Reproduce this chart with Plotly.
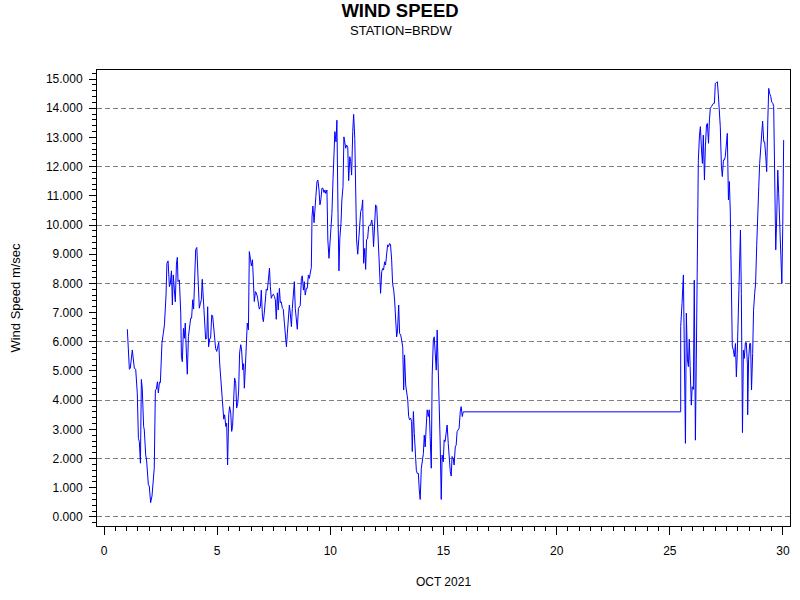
import plotly.graph_objects as go

# Day of month (Oct 2021) and wind speed (m/sec)
days = [
 1.03,1.12,1.16,1.25,1.34,1.40,1.47,1.52,1.56,1.61,1.65,1.69,1.75,1.78,1.84,1.88,1.96,2.00,2.06,2.12,
 2.22,2.27,2.31,2.36,2.40,2.45,2.49,2.56,2.62,2.67,2.74,2.78,2.83,2.89,2.93,2.98,3.02,3.06,3.11,3.15,
 3.20,3.24,3.27,3.33,3.39,3.42,3.46,3.51,3.55,3.59,3.64,3.68,3.73,3.78,3.83,3.87,3.92,3.96,4.01,4.05,
 4.10,4.14,4.21,4.26,4.30,4.34,4.40,4.45,4.49,4.54,4.58,4.62,4.67,4.71,4.76,4.80,4.85,4.89,4.93,4.98,
 5.02,5.07,5.11,5.16,5.20,5.24,5.29,5.33,5.38,5.42,5.46,5.51,5.55,5.60,5.64,5.68,5.73,5.77,5.82,5.86,
 5.91,5.95,5.99,6.04,6.08,6.13,6.17,6.20,6.25,6.29,6.33,6.38,6.42,6.47,6.51,6.56,6.60,6.64,6.69,6.73,
 6.78,6.82,6.86,6.91,6.95,7.00,7.04,7.08,7.13,7.17,7.22,7.26,7.31,7.35,7.39,7.44,7.48,7.53,7.57,7.61,
 7.66,7.70,7.75,7.79,7.83,7.88,7.92,7.97,8.01,8.06,8.10,8.14,8.19,8.23,8.28,8.32,8.36,8.41,8.45,8.50,
 8.54,8.59,8.63,8.67,8.72,8.76,8.81,8.85,8.89,8.94,8.98,9.03,9.07,9.12,9.16,9.19,9.23,9.28,9.32,9.36,
 9.41,9.45,9.50,9.54,9.58,9.63,9.67,9.72,9.76,9.80,9.85,9.89,9.94,9.98,10.03,10.07,10.12,10.16,10.20,10.25,
 10.29,10.34,10.38,10.42,10.47,10.51,10.56,10.60,10.68,10.72,10.77,10.81,10.86,10.90,10.94,10.99,11.03,11.08,11.12,11.16,
 11.21,11.25,11.30,11.34,11.39,11.43,11.47,11.52,11.56,11.60,11.65,11.69,11.74,11.78,11.83,11.87,11.91,11.96,12.00,12.05,
 12.09,12.13,12.18,12.22,12.27,12.31,12.35,12.40,12.44,12.49,12.53,12.57,12.62,12.66,12.71,12.75,12.80,12.84,12.88,12.93,
 12.97,13.02,13.06,13.11,13.15,13.20,13.24,13.28,13.33,13.37,13.42,13.46,13.50,13.55,13.59,13.62,13.67,13.71,13.75,13.80,
 13.84,13.89,13.93,13.97,14.02,14.06,14.11,14.15,14.19,14.24,14.28,14.33,14.37,14.41,14.46,14.50,14.55,14.59,14.63,14.68,
 14.72,14.77,14.81,14.85,14.90,14.94,14.99,15.03,15.07,15.12,15.16,15.21,15.25,15.30,15.34,15.38,15.43,15.47,15.52,15.56,
 15.60,15.65,15.69,15.74,15.78,15.83,15.87,
 25.48,25.48,25.54,25.60,25.69,25.73,25.78,25.82,25.86,25.91,25.95,25.99,26.04,26.08,26.13,26.17,26.22,26.26,26.31,26.35,
 26.40,26.44,26.48,26.53,26.57,26.62,26.66,26.71,26.75,26.79,26.84,26.88,26.93,26.97,27.01,27.06,27.10,27.14,27.19,27.23,
 27.28,27.32,27.37,27.41,27.45,27.50,27.54,27.59,27.63,27.67,27.72,27.76,27.81,27.85,27.90,27.94,27.98,28.03,28.07,28.12,
 28.16,28.21,28.25,28.29,28.34,28.38,28.43,28.44,28.48,28.53,28.57,28.61,28.66,28.70,28.75,28.79,28.84,28.88,28.93,28.97,
 29.02,29.06,29.10,29.15,29.19,29.24,29.28,29.33,29.37,29.41,29.46,29.50,29.55,29.59,29.64,29.68,29.72,29.77,29.81,29.86,
 29.90,29.95,29.99,30.03,
]
speed = [
 6.43,5.06,5.09,5.72,5.09,5.06,4.24,2.69,2.58,1.84,4.71,4.41,3.10,2.98,2.13,1.95,1.10,1.06,0.49,0.72,
 1.67,4.35,4.37,4.63,4.25,4.62,4.60,5.95,6.29,6.58,7.60,8.69,8.77,7.89,8.00,8.43,7.26,8.29,7.77,7.37,
 8.66,8.89,8.06,8.12,6.98,5.49,5.32,6.46,6.12,6.64,5.61,4.89,6.18,6.52,6.81,6.81,7.44,7.12,8.81,9.16,
 9.23,8.35,7.15,7.32,7.44,8.14,7.44,6.75,6.09,6.12,7.20,5.83,6.11,6.12,6.92,6.89,6.52,6.06,5.78,5.67,
 5.83,5.98,5.27,4.70,4.01,3.61,3.35,3.50,3.10,3.21,1.78,3.50,3.78,3.56,2.93,3.10,4.13,4.76,4.58,3.73,
 3.90,4.35,5.61,5.90,5.72,5.04,5.25,4.41,5.21,5.83,6.64,6.41,9.09,8.83,8.60,8.81,8.24,7.38,7.72,7.67,
 7.53,7.26,7.12,7.20,7.77,6.86,6.69,6.98,7.44,7.80,7.77,8.17,8.52,7.89,7.49,7.60,7.63,7.55,7.44,6.77,
 7.68,7.09,7.83,7.34,7.37,7.15,7.12,6.64,6.18,5.83,6.29,6.86,7.26,6.98,6.52,7.15,7.77,8.06,7.15,6.75,
 6.43,7.15,7.20,7.24,8.17,8.26,7.77,8.06,7.60,7.83,7.83,8.29,8.17,8.46,8.55,10.28,10.65,10.08,10.69,10.97,
 11.49,11.54,11.20,10.69,10.86,11.26,11.26,11.11,11.20,11.08,11.20,9.49,8.86,9.43,10.05,10.40,11.60,12.45,13.20,12.85,
 13.59,10.40,8.43,9.55,10.05,10.86,11.31,13.02,12.63,12.74,12.66,11.52,12.34,12.17,11.71,13.20,13.79,12.97,10.86,9.49,
 9.00,9.49,10.17,10.46,10.57,10.86,8.69,9.20,8.48,9.49,9.55,9.95,10.00,10.00,10.17,9.95,9.26,10.29,10.69,10.63,
 9.77,8.92,8.23,7.66,8.40,8.51,8.46,8.74,8.63,9.14,9.32,9.26,9.37,9.32,8.80,8.00,7.77,7.43,6.80,6.17,
 6.40,7.26,6.29,6.23,6.06,5.81,4.35,5.55,4.52,4.35,4.01,3.44,3.33,3.38,3.27,2.24,3.61,2.86,2.17,1.60,
 1.49,1.49,0.92,0.60,1.67,1.95,2.17,2.80,2.40,3.15,3.67,3.44,3.67,2.76,1.67,4.86,6.06,6.17,5.71,5.03,
 6.40,5.15,3.33,2.64,0.60,2.12,1.89,2.64,2.58,2.98,3.15,2.52,1.84,1.55,1.40,2.07,2.01,1.78,2.40,2.46,
 2.92,2.98,3.04,3.61,3.78,3.44,3.60,
 3.60,6.52,7.32,8.29,2.52,6.98,5.38,5.15,6.09,4.92,3.83,4.46,4.37,8.11,2.63,5.38,8.80,12.22,13.08,13.37,
 12.57,12.11,13.08,11.54,12.68,13.43,13.48,12.80,13.60,14.00,14.06,14.11,14.17,14.17,14.85,14.88,14.91,14.51,13.94,13.37,
 12.00,11.66,12.23,12.23,12.34,12.91,13.14,10.86,11.49,10.51,8.11,5.85,5.71,5.49,5.94,4.80,5.60,6.98,8.80,9.83,
 7.66,2.89,5.71,5.43,5.97,5.97,5.21,3.50,5.38,5.94,5.94,4.35,5.60,7.08,7.66,8.00,9.31,10.51,11.31,12.11,
 12.80,13.31,13.56,12.85,12.85,12.34,11.83,13.60,14.68,14.51,14.40,14.22,14.17,14.06,11.26,9.15,10.17,11.88,11.08,9.72,
 8.80,8.00,9.95,12.91,
]

x_ticks = [0, 5, 10, 15, 20, 25, 30]
y_ticks = [0, 1, 2, 3, 4, 5, 6, 7, 8, 9, 10, 11, 12, 13, 14, 15]

FONT = "Liberation Sans, Arial, sans-serif"

fig = go.Figure()
fig.add_trace(go.Scatter(x=days, y=speed, mode="lines",
                         line=dict(color="#0000FF", width=1), showlegend=False))
# invisible trace to host the grid axis
fig.add_trace(go.Scatter(x=[days[0]], y=[speed[0]], yaxis="y2", mode="markers",
                         marker=dict(opacity=0), showlegend=False, hoverinfo="skip"))

fig.update_layout(
    width=800, height=600,
    margin=dict(l=97, r=10, t=70, b=74),
    paper_bgcolor="white", plot_bgcolor="white",
    font=dict(family=FONT, size=12, color="black"),
    title=dict(text="<b>WIND SPEED</b>", x=0.5, xanchor="center", y=1 - 11 / 600,
               yanchor="middle", yref="container", font=dict(size=18.5, family=FONT)),
    annotations=[dict(text="STATION=BRDW", xref="paper", yref="paper",
                      x=(400.5 - 97) / 693, y=(526 - 30.5) / 456,
                      xanchor="center", yanchor="middle",
                      showarrow=False, font=dict(size=13, family=FONT))],
    xaxis=dict(range=[-0.31, 30.31], tickvals=x_ticks, ticks="outside", ticklen=8,
               tickwidth=1, tickcolor="black", showline=True, linecolor="black",
               linewidth=1, mirror=True, showgrid=False, zeroline=False,
               ticklabelstandoff=6,
               minor=dict(dtick=0.5, tick0=0, ticks="outside", ticklen=4,
                          tickcolor="black", showgrid=False),
               title=dict(text="OCT 2021", standoff=20, font=dict(size=12))),
    yaxis=dict(range=[-0.31, 15.31], tickvals=y_ticks, tickformat=".3f",
               ticks="outside", ticklen=7, tickwidth=1, tickcolor="black",
               showline=True, linecolor="black", linewidth=1, mirror=True,
               showgrid=False, zeroline=False, ticklabelstandoff=4,
               minor=dict(dtick=0.2, tick0=0, ticks="outside", ticklen=4,
                          tickcolor="black", showgrid=False),
               title=dict(text="Wind Speed m/sec", standoff=22, font=dict(size=13))),
    yaxis2=dict(range=[-0.31, 15.31], overlaying="y", dtick=2, tick0=0,
                showgrid=True, gridcolor="#808080", griddash="5px,3px", gridwidth=1,
                showticklabels=False, ticks="", zeroline=False, showline=False),
)

fig.write_html("out.html", config={"displayModeBar": False},
               post_script="document.body.style.margin='0px';")
